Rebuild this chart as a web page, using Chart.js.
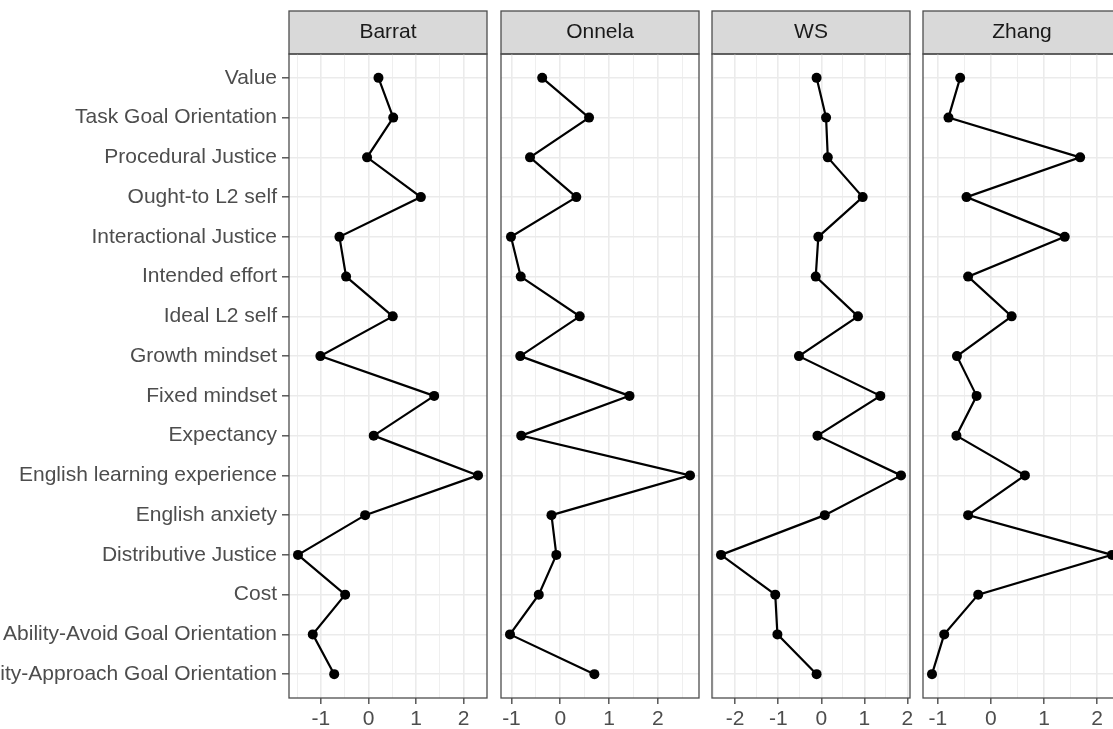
<!DOCTYPE html>
<html>
<head>
<meta charset="utf-8">
<script src="https://cdn.jsdelivr.net/npm/chart.js@4/dist/chart.umd.min.js"></script>
<style>
  html, body { margin: 0; padding: 0; background: #ffffff; overflow: hidden; }
  #wrap { position: relative; width: 1113px; height: 729px; overflow: hidden; background: #ffffff; }
  #wrap canvas { position: absolute; top: 0; }
</style>
</head>
<body>
<div id="wrap"></div>
<script>
// Constructs, listed from the top row of each panel to the bottom row
const categories = [
  "Value",
  "Task Goal Orientation",
  "Procedural Justice",
  "Ought-to L2 self",
  "Interactional Justice",
  "Intended effort",
  "Ideal L2 self",
  "Growth mindset",
  "Fixed mindset",
  "Expectancy",
  "English learning experience",
  "English anxiety",
  "Distributive Justice",
  "Cost",
  "Ability-Avoid Goal Orientation",
  "Ability-Approach Goal Orientation"
];

// Facet names
const panels = ["Barrat", "Onnela", "WS", "Zhang"];

// One value per construct for each weighting method
const barrat = [0.21, 0.52, -0.03, 1.10, -0.61, -0.47, 0.51, -1.01, 1.38, 0.11, 2.30, -0.07, -1.48, -0.49, -1.17, -0.72];
const onnela = [-0.37, 0.59, -0.62, 0.33, -1.01, -0.81, 0.40, -0.82, 1.42, -0.80, 2.66, -0.18, -0.08, -0.44, -1.03, 0.70];
const ws     = [-0.11, 0.11, 0.15, 0.96, -0.07, -0.13, 0.85, -0.52, 1.37, -0.09, 1.85, 0.08, -2.33, -1.07, -1.02, -0.11];
const zhang  = [-0.58, -0.80, 1.68, -0.46, 1.39, -0.43, 0.39, -0.64, -0.27, -0.65, 0.64, -0.43, 2.28, -0.24, -0.88, -1.11];

const seriesValues = [barrat, onnela, ws, zhang];

const FONT_SIZE = 21;
Chart.defaults.font.family = "'Liberation Sans', Arial, sans-serif";
Chart.defaults.font.size = FONT_SIZE;

// Page geometry of the facet grid
const AXIS_W = 289;          // room for the construct labels on the first panel
const PANEL_W = 198;
const PANEL_LEFTS = [289, 501, 712, 923];
const SIDE_PAD = 8;
const H = 729;

const GRID = '#ebebeb';
const DARK = '#4d4d4d';
const TEXT = '#4d4d4d';

// Grey strip above each panel and the frame round the panel
const facetFrame = {
  id: 'facetFrame',
  beforeDraw(chart) {
    const { ctx, chartArea: a } = chart;
    ctx.save();
    ctx.fillStyle = '#d9d9d9';
    ctx.fillRect(a.left, 11, a.right - a.left, a.top - 11);
    ctx.strokeStyle = DARK;
    ctx.lineWidth = 1.3;
    ctx.strokeRect(a.left, 11, a.right - a.left, a.top - 11);
    ctx.restore();
  },
  afterDraw(chart) {
    const { ctx, chartArea: a } = chart;
    ctx.save();
    ctx.strokeStyle = DARK;
    ctx.lineWidth = 1.3;
    ctx.strokeRect(a.left, a.top, a.right - a.left, a.bottom - a.top);
    ctx.restore();
  }
};

function xRange(vals) {
  const lo = Math.min(...vals), hi = Math.max(...vals);
  const pad = (hi - lo) * 0.05;
  return [lo - pad, hi + pad];
}

const wrap = document.getElementById('wrap');

panels.forEach((name, p) => {
  const vals = seriesValues[p];
  const [xmin, xmax] = xRange(vals);
  const first = p === 0;

  const canvas = document.createElement('canvas');
  const left = first ? 0 : PANEL_LEFTS[p] - SIDE_PAD;
  const width = first ? AXIS_W + PANEL_W + SIDE_PAD : PANEL_W + 2 * SIDE_PAD;
  canvas.width = width;
  canvas.height = H;
  canvas.style.left = left + 'px';
  canvas.style.width = width + 'px';
  canvas.style.height = H + 'px';
  wrap.appendChild(canvas);

  new Chart(canvas, {
    type: 'line',
    data: {
      datasets: [{
        label: name,
        data: vals.map((v, i) => ({ x: v, y: i })),
        borderColor: '#000000',
        borderWidth: 2.2,
        pointRadius: 5,
        pointBackgroundColor: '#000000',
        pointBorderWidth: 0,
        tension: 0,
        clip: false
      }]
    },
    options: {
      responsive: false,
      animation: false,
      devicePixelRatio: 1,
      layout: { padding: { left: first ? 0 : SIDE_PAD, right: SIDE_PAD, top: 0, bottom: 0 } },
      plugins: {
        legend: { display: false },
        tooltip: { enabled: false },
        title: {
          display: true,
          text: name,
          fullSize: false,
          color: '#1a1a1a',
          font: { size: FONT_SIZE, weight: 'normal', lineHeight: 24 / FONT_SIZE },
          padding: { top: 20.5, bottom: 9.5 }
        }
      },
      scales: {
        x: {
          type: 'linear',
          position: 'bottom',
          min: xmin,
          max: xmax,
          afterBuildTicks(scale) {
            const t = [];
            for (let v = Math.ceil(xmin * 2) / 2; v <= xmax; v += 0.5) t.push({ value: v });
            scale.ticks = t;
          },
          ticks: {
            autoSkip: false,
            maxRotation: 0,
            color: TEXT,
            padding: 3,
            font: { size: FONT_SIZE },
            callback: v => Number.isInteger(v) ? String(v) : ''
          },
          grid: {
            color: GRID,
            lineWidth: c => Number.isInteger(c.tick.value) ? 1.6 : 0.8,
            tickLength: 6,
            tickWidth: 1.4,
            tickColor: c => Number.isInteger(c.tick.value) ? DARK : 'rgba(0,0,0,0)'
          },
          border: { display: false },
          afterFit(scale) { scale.height = 31; }
        },
        y: {
          type: 'linear',
          reverse: true,
          min: -0.6,
          max: categories.length - 1 + 0.6,
          afterBuildTicks(scale) {
            scale.ticks = categories.map((_, i) => ({ value: i }));
          },
          ticks: {
            display: first,
            autoSkip: false,
            color: TEXT,
            padding: 5,
            font: { size: FONT_SIZE },
            callback: v => categories[v]
          },
          grid: {
            color: GRID,
            lineWidth: 1.6,
            drawTicks: first,
            tickLength: 7,
            tickWidth: 1.4,
            tickColor: DARK
          },
          border: { display: false },
          afterFit(scale) { scale.width = first ? AXIS_W : 0; }
        }
      }
    },
    plugins: [facetFrame]
  });
});
</script>
</body>
</html>
